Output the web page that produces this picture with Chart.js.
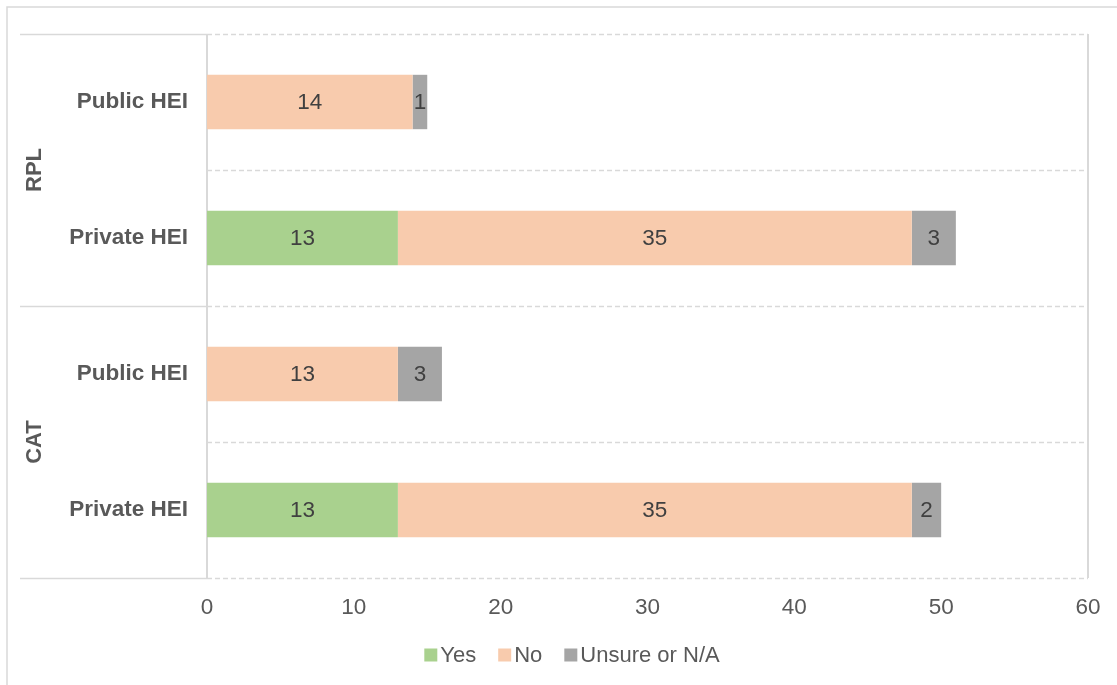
<!DOCTYPE html>
<html>
<head>
<meta charset="utf-8">
<script src="https://cdn.jsdelivr.net/npm/chart.js@4/dist/chart.umd.min.js"></script>
<style>
  html, body { margin: 0; padding: 0; background: #fff; }
  canvas { display: block; }
</style>
</head>
<body>
<canvas id="hei" width="1117" height="685"></canvas>
<script>
// Survey answers per HEI type, top to bottom
const categories = ['Public HEI', 'Private HEI', 'Public HEI', 'Private HEI'];
const groups = ['RPL', 'CAT'];
const yesValues = [0, 13, 0, 13];
const noValues = [14, 35, 13, 35];
const unsureValues = [1, 3, 3, 2];
const xTicks = [0, 10, 20, 30, 40, 50, 60];

const FONT = '"Liberation Sans", Arial, sans-serif';
const GRID = '#d9d9d9';
const TEXT = '#595959';

// lines, group labels, value labels and legend drawn by hand
const decorations = {
  id: 'decorations',
  beforeDatasetsDraw(chart) {
    const { ctx, chartArea: a, scales: { x, y } } = chart;
    const band = (y.bottom - y.top) / categories.length;
    ctx.save();
    ctx.strokeStyle = GRID;
    ctx.lineWidth = 1.5;
    // outer frame
    ctx.beginPath();
    ctx.moveTo(7, chart.height);
    ctx.lineTo(7, 7);
    ctx.lineTo(chart.width, 7);
    ctx.stroke();
    for (let i = 0; i <= categories.length; i++) {
      const yy = Math.round(y.top + i * band) + 0.5;
      if (i % 2 === 0) {
        ctx.setLineDash([]);
        ctx.beginPath();
        ctx.moveTo(20, yy);
        ctx.lineTo(a.left, yy);
        ctx.stroke();
      }
      ctx.setLineDash([5, 3]);
      ctx.beginPath();
      ctx.moveTo(a.left, yy);
      ctx.lineTo(a.right, yy);
      ctx.stroke();
    }
    ctx.setLineDash([]);
    ctx.lineWidth = 2;
    [x.getPixelForValue(0), x.getPixelForValue(60)].forEach(px => {
      ctx.beginPath();
      ctx.moveTo(Math.round(px), a.top);
      ctx.lineTo(Math.round(px), a.bottom);
      ctx.stroke();
    });
    ctx.restore();
  },
  afterDatasetsDraw(chart) {
    const { ctx } = chart;
    ctx.save();
    ctx.font = '22.5px ' + FONT;
    ctx.fillStyle = '#404040';
    ctx.textAlign = 'center';
    ctx.textBaseline = 'middle';
    chart.data.datasets.forEach((ds, di) => {
      const meta = chart.getDatasetMeta(di);
      meta.data.forEach((bar, i) => {
        const v = ds.data[i];
        if (!v) return;
        const p = bar.getProps(['x', 'y', 'base'], true);
        ctx.fillText(String(v), (p.x + p.base) / 2, p.y + 1);
      });
    });
    ctx.restore();
  },
  afterDraw(chart) {
    const { ctx, scales: { y } } = chart;
    const band = (y.bottom - y.top) / categories.length;
    ctx.save();
    // group labels
    ctx.font = 'bold 22px ' + FONT;
    ctx.fillStyle = TEXT;
    ctx.textAlign = 'center';
    ctx.textBaseline = 'middle';
    groups.forEach((g, gi) => {
      const cy = y.top + (gi * 2 + 1) * band;
      ctx.save();
      ctx.translate(35, cy);
      ctx.rotate(-Math.PI / 2);
      ctx.fillText(g, 0, 0);
      ctx.restore();
    });
    // legend
    ctx.font = '22px ' + FONT;
    ctx.textAlign = 'left';
    const box = 13, gap = 3, spacing = 22;
    const items = chart.data.datasets.map(ds => ({ label: ds.label, color: ds.backgroundColor }));
    const total = items.reduce((s, it) => s + box + gap + ctx.measureText(it.label).width, 0) + spacing * (items.length - 1);
    let lx = 572 - total / 2;
    const ly = 655;
    items.forEach(it => {
      ctx.fillStyle = it.color;
      ctx.fillRect(lx, ly - box / 2, box, box);
      lx += box + gap;
      ctx.fillStyle = TEXT;
      ctx.fillText(it.label, lx, ly + 1);
      lx += ctx.measureText(it.label).width + spacing;
    });
    ctx.restore();
  }
};

new Chart(document.getElementById('hei'), {
  type: 'bar',
  data: {
    labels: categories,
    datasets: [
      { label: 'Yes', data: yesValues, backgroundColor: '#a9d18e' },
      { label: 'No', data: noValues, backgroundColor: '#f8cbad' },
      { label: 'Unsure or N/A', data: unsureValues, backgroundColor: '#a5a5a5' }
    ]
  },
  options: {
    indexAxis: 'y',
    responsive: false,
    animation: false,
    devicePixelRatio: 1,
    categoryPercentage: 0.8,
    barPercentage: 0.5,
    layout: { padding: { top: 34, right: 29, left: 0, bottom: 0 } },
    plugins: {
      legend: { display: false },
      tooltip: { enabled: false }
    },
    scales: {
      x: {
        stacked: true,
        min: 0,
        max: 60,
        afterBuildTicks(scale) { scale.ticks = xTicks.map(v => ({ value: v })); },
        afterFit(scale) { scale.height = 107; },
        grid: { display: false, drawTicks: false },
        border: { display: false },
        ticks: { color: TEXT, padding: 16, font: { family: FONT, size: 22.5 } }
      },
      y: {
        stacked: true,
        afterFit(scale) { scale.width = 207; },
        grid: { display: false, drawTicks: false },
        border: { display: false },
        ticks: { color: TEXT, padding: 19, font: { family: FONT, size: 22.5, weight: 'bold' } }
      }
    }
  },
  plugins: [decorations]
});
</script>
</body>
</html>
